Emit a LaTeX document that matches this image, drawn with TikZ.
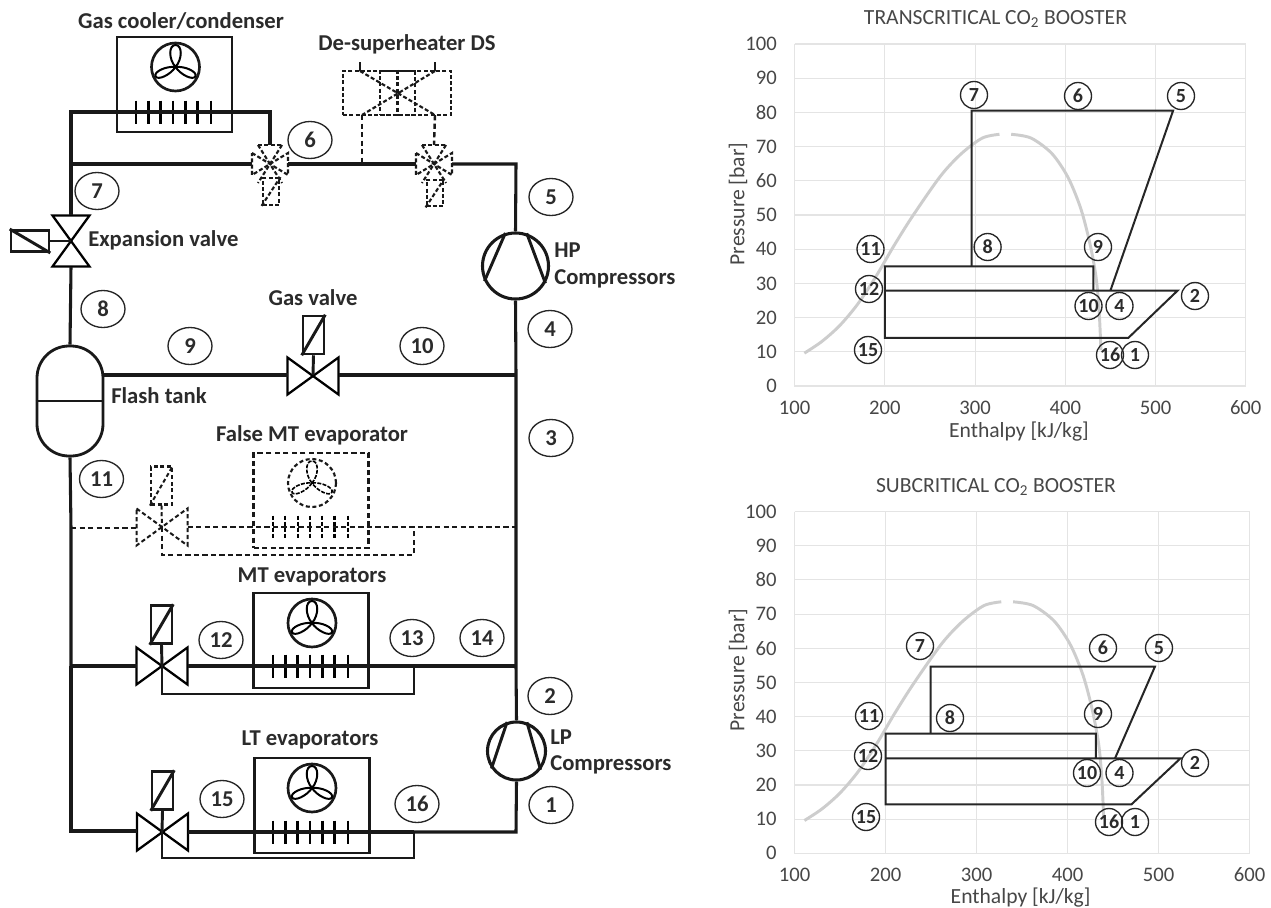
\documentclass[tikz,border=0pt]{standalone}
\usepackage{fontspec}
\setmainfont{Carlito}
\usetikzlibrary{shapes.geometric}
\definecolor{labelink}{HTML}{2B2B2B}
\definecolor{chartink}{HTML}{474747}
\definecolor{gridgray}{HTML}{E4E4E4}
\definecolor{domegray}{HTML}{CDCDCD}
\tikzset{
  x=0.75pt,y=-0.75pt,
  pipe/.style={line width=2.3pt,black!90},
  thinpipe/.style={line width=2.2pt,black!90},
  dashpipe/.style={line width=1.8pt,black!90,dash pattern=on 4pt off 2.4pt},
  finedash/.style={line width=1.6pt,black!90,dash pattern=on 3pt off 1.7pt},
  unitbox/.style={draw,line width=2.1pt,black!90,minimum width=86.25pt,minimum height=71.25pt,inner sep=0pt},
  solbox/.style={draw,line width=1.9pt,black!90,minimum width=15.75pt,minimum height=28.5pt,inner sep=0pt},
  fanring/.style={draw,circle,line width=2pt,black!90,minimum size=36pt,inner sep=0pt},
  compressor/.style={draw,circle,line width=2.3pt,black!90,inner sep=0pt},
  num/.style={draw,ellipse,line width=1pt,black!85,minimum width=33pt,minimum height=27.75pt,inner sep=0pt,font=\fontsize{17}{19}\selectfont\bfseries,text=labelink},
  cnum/.style={draw,circle,line width=1pt,black!85,minimum size=20.25pt,inner sep=0pt,font=\fontsize{15}{17}\selectfont\bfseries,text=labelink},
  lab/.style={inner sep=0pt,text=labelink,font=\fontsize{17}{20}\selectfont\bfseries},
  ctick/.style={inner sep=0pt,text=chartink,font=\fontsize{15.5}{18}\selectfont},
  ctext/.style={inner sep=0pt,text=chartink,font=\fontsize{16.2}{19}\selectfont},
  gridline/.style={gridgray,line width=0.8pt},
  dome/.style={domegray,line width=2.2pt},
  cycleline/.style={line width=1.5pt,black!85,line join=miter},
  pics/bowtie/.style={code={\draw[line join=miter] (-25.5,-18.5) -- (25.5,18.5) -- (25.5,-18.5) -- (-25.5,18.5) -- cycle;}},
  pics/blades/.style={code={
    \foreach \a/\w in {0/7,115/5,-115/5}{
      \draw[rotate=\a] (0,0) .. controls (-\w,-8) and (-\w,-22) .. (0,-22) .. controls (\w,-22) and (\w,-8) .. (0,0);}
  }},
  pics/ticks/.style={code={
    \foreach \t in {0,12.3,24.6,36.9,49.2,61.5,75}{\draw (\t,-11.5) -- (\t,11.5);}
  }},
  pics/fourway/.style={code={
    \draw (-18,-11) -- (18,11) -- (18,-11) -- (-18,11) -- cycle;
    \draw (-12,-19) -- (12,19) (12,-19) -- (-12,19);
    \draw (-12,-19) -- (12,-19);
  }},
}
\begin{document}
\begin{tikzpicture}
\useasboundingbox (0,0) rectangle (1271,907);
\fill[white] (0,0) rectangle (1271,907);

% ---------- junctions
\coordinate (LA) at (71,112);
\coordinate (LB) at (71,164);
\coordinate (LC) at (71,528);
\coordinate (LD) at (71,666);
\coordinate (LE) at (71,831);
\coordinate (RA) at (516,164);
\coordinate (RB) at (516,375);
\coordinate (RC) at (516,527);
\coordinate (RD) at (516,666);
\coordinate (RE) at (516,832);
\coordinate (evc) at (71,241);
\coordinate (evt) at (71,215);
\coordinate (evb) at (71,267);
\coordinate (gvc) at (313,375);
\coordinate (gvl) at (287.5,375);
\coordinate (gvr) at (338.5,375);
\coordinate (dvA) at (270,164);
\coordinate (dvB) at (434,164);
\coordinate (dvAl) at (252,164);
\coordinate (dvAr) at (288,164);
\coordinate (dvBl) at (416,164);
\coordinate (dvBr) at (452,164);
\coordinate (dvAt) at (270,145);
\coordinate (dvBt) at (434,145);
\coordinate (coilE) at (270,112);
\coordinate (dsT) at (362,164);
\coordinate (fvc) at (162,527);
\coordinate (mvc) at (162,666);
\coordinate (lvc) at (162,832);
\coordinate (ftee) at (414,527);
\coordinate (mtee) at (414,666);
\coordinate (ltee) at (414,832);
\coordinate (fbl) at (162,555);
\coordinate (fbr) at (414,555);
\coordinate (mbl) at (162,694);
\coordinate (mbr) at (414,694);
\coordinate (lbl) at (162,858);
\coordinate (lbr) at (414,858);

% ---------- units
\node[unitbox] (gc) at (174.5,84.5) {};
\node[unitbox,dash pattern=on 4pt off 2.4pt,line width=1.6pt] (fe) at (311,500.5) {};
\node[unitbox] (me) at (311,640.5) {};
\node[unitbox] (le) at (312,805.5) {};

\node[fanring] (gcf) at (175.5,67) {};
\node[fanring,dash pattern=on 3pt off 2pt,line width=1.6pt] (fef) at (312,483) {};
\node[fanring] (mef) at (312,623) {};
\node[fanring] (lef) at (312,788) {};
\pic[line width=1.5pt] at (175.5,67) {blades};
\pic[line width=1.2pt,dash pattern=on 3pt off 1pt] at (312,483) {blades};
\pic[line width=1.5pt] at (312,623) {blades};
\pic[line width=1.5pt] at (312,788) {blades};

\pic[line width=2pt] at (136,112) {ticks};
\pic[line width=1.6pt,dash pattern=on 3pt off 1.5pt] at (273,527) {ticks};
\pic[line width=2pt] at (273,666) {ticks};
\pic[line width=2pt] at (273,832) {ticks};

% ---------- flash tank and compressors
\node[draw,line width=2.1pt,black!90,rounded corners=24pt,minimum width=49.5pt,minimum height=82.5pt,inner sep=0pt] (tank) at (70,401) {};
\draw[thinpipe] (tank.west |- 0,401) -- (tank.east |- 0,401);
\node[compressor,minimum size=49.5pt] (hp) at (515.5,266) {};
\node[compressor,minimum size=43.5pt] (lp) at (516.5,751) {};
\draw[thinpipe] (hp.107) -- (hp.206);
\draw[thinpipe] (hp.71) -- (hp.330);
\draw[thinpipe] (lp.108) -- (lp.215);
\draw[thinpipe] (lp.70) -- (lp.322);

% ---------- valves
\pic[line width=1.7pt] at (313,376) {bowtie};
\pic[line width=1.7pt] at (162,666) {bowtie};
\pic[line width=1.7pt] at (162.5,832) {bowtie};
\pic[line width=1.7pt,rotate=90] at (evc) {bowtie};
\pic[line width=1.5pt,black!90,dash pattern=on 3.2pt off 2pt] at (162,527) {bowtie};
\pic[finedash] at (dvA) {fourway};
\pic[finedash] at (dvB) {fourway};

% ---------- solenoids
\node[solbox,minimum width=28.5pt,minimum height=16pt] (sEV) at (30,241) {};
\draw[thinpipe] (sEV.north west) -- (sEV.south east);
\draw[thinpipe] (sEV.east) -- (evc);
\node[solbox] (sGV) at (313.5,335) {};
\draw[thinpipe] (sGV.south west) -- (sGV.north east);
\draw[thinpipe] (sGV.south) -- (gvc);
\node[solbox] (sMV) at (161.5,624.5) {};
\draw[thinpipe] (sMV.south west) -- (sMV.north east);
\draw[thinpipe] (sMV.south) -- (mvc);
\node[solbox] (sLV) at (162.5,790.5) {};
\draw[thinpipe] (sLV.south west) -- (sLV.north east);
\draw[thinpipe] (sLV.south) -- (lvc);
\node[solbox,dash pattern=on 3pt off 2pt,line width=1.6pt] (sFV) at (161.5,485.5) {};
\draw[line width=1.5pt,black!90,dash pattern=on 3pt off 2pt] (sFV.south west) -- (sFV.north east);
\draw[line width=1.5pt,black!90,dash pattern=on 3pt off 2pt] (sFV.south) -- (fvc);
\node[solbox,finedash,minimum width=12.5pt,minimum height=20pt] (sA) at (271,191.5) {};
\draw[finedash] (sA.south west) -- (sA.north east);
\node[solbox,finedash,minimum width=12.5pt,minimum height=20pt] (sB) at (435,193) {};
\draw[finedash] (sB.south west) -- (sB.north east);

% ---------- de-superheater (dashed)
\node[draw,finedash,minimum width=81pt,minimum height=33pt,inner sep=0pt] (dsbox) at (397,93) {};
\node[draw,finedash,minimum width=26.25pt,minimum height=33pt,inner sep=0pt] (dsinner) at (397.5,93) {};
\draw[finedash] (dsinner.north) -- (dsinner.south);
\coordinate (dsTL) at (360,71);
\coordinate (dsTR) at (435,71);
\coordinate (dsBL) at (362,115);
\coordinate (dsBR) at (435,115);
\coordinate (dsSL) at (360,62);
\coordinate (dsSR) at (435,62);
\draw[finedash] (dsTL) -- (dsBR) (dsTR) -- (dsBL);
\draw[line width=1.3pt,black!90] (dsSL) -- (dsTL) (dsSR) -- (dsTR);
\draw[dashpipe] (dsBL) -- (dsT);
\draw[dashpipe] (dsBR) -- (dvBt);

% ---------- main piping
\draw[pipe,line join=miter] (gc.west |- LA) -- (LA) -- (LB) -- (evt);
\draw[pipe,line join=miter] (gc.west |- LA) -- (coilE) -- (dvAt);
\draw[pipe] (LB) -- (dvAl);
\draw[pipe] (dvAr) -- (dvBl);
\draw[pipe,line join=miter] (dvBr) -- (RA) -- (hp.north);
\draw[pipe] (evb) -- (tank.north);
\draw[pipe] (tank.south) -- (LC) -- (LD) -- (LE);
\draw[pipe] (tank.east |- gvc) -- (gvl);
\draw[pipe] (gvr) -- (RB);
\draw[pipe] (hp.south) -- (RB) -- (RC) -- (RD) -- (lp.north);
\draw[pipe,line join=miter] (lp.south) -- (RE) -- (ltee);
% false MT
\draw[dashpipe] (LC) -- (136.5,528);
\draw[dashpipe] (187.5,527) -- (RC);
\draw[dashpipe] (fvc) -- (fbl) -- (fbr) -- (ftee);
% MT
\draw[pipe] (LD) -- (136.5,666);
\draw[pipe] (187.5,666) -- (RD);
\draw[thinpipe,line join=miter] (mvc) -- (mbl) -- (mbr) -- (mtee);
% LT
\draw[pipe,line join=miter] (LD) -- (LE) -- (137,831);
\draw[pipe] (188,832) -- (ltee);
\draw[thinpipe,line join=miter] (lvc) -- (lbl) -- (lbr) -- (ltee);

% ---------- state numbers, schematic
\node[num] (p1) at (551,805) {1};
\node[num] (p2) at (550,696) {2};
\node[num] (p3) at (551,438) {3};
\node[num] (p4) at (550,329) {4};
\node[num] (p5) at (551,197) {5};
\node[num] (p6) at (310,140) {6};
\node[num] (p7) at (97,191) {7};
\node[num] (p8) at (103,309) {8};
\node[num] (p9) at (190,346) {9};
\node[num] (p10) at (422,346) {10};
\node[num] (p11) at (101.5,479) {11};
\node[num] (p12) at (221,640) {12};
\node[num] (p13) at (412,638) {13};
\node[num] (p14) at (482,638) {14};
\node[num] (p15) at (222,799) {15};
\node[num] (p16) at (417,804) {16};

% ---------- labels, schematic
\node[lab] (tGC) at (181,21) {Gas cooler/condenser};
\node[lab] (tDS) at (407,44) {De-superheater DS};
\node[lab,anchor=west] (tEV) at (88,240) {Expansion valve};
\node[lab] (tGV) at (313,298) {Gas valve};
\node[lab,anchor=west] (tFT) at (111,396) {Flash tank};
\node[lab] (tFE) at (312,435) {False MT evaporator};
\node[lab] (tME) at (312,577) {MT evaporators};
\node[lab] (tLE) at (310,740) {LT evaporators};
\node[lab,anchor=west] (tHP) at (554,250) {HP};
\node[lab,anchor=west] (tHC) at (554,279) {Compressors};
\node[lab,anchor=west] (tLP) at (550,737) {LP};
\node[lab,anchor=west] (tLC) at (550,765) {Compressors};

% ========== chart 1
\begin{scope}[shift={(704.5,386)},x=0.6765pt,y=2.565pt]
  \foreach \p in {10,20,...,100}{\draw[gridline] (100,\p) -- (600,\p);}
  \foreach \h in {200,300,400,500,600}{\draw[gridline] (\h,0) -- (\h,100);}
  \draw[gridline,line width=1pt] (100,100) -- (100,0) -- (600,0);
  \draw[dome] plot[smooth] coordinates {(110.7,9.6) (130,13) (150,17.7) (170,24) (190,32) (210,41) (231,49.8) (262,61.5) (285,68) (308,72.5) (327,73.6)};
  \draw[dome] plot[smooth] coordinates {(340,73.6) (362,72.5) (385,68) (403,61) (417,52) (427,42) (434,32) (437.5,22) (439.5,10.5)};
  \coordinate (a7) at (296,80.5); \coordinate (a5) at (519.5,80.5);
  \coordinate (a4) at (450,27.9); \coordinate (a2) at (524.5,27.9);
  \coordinate (a1) at (470,14.1); \coordinate (a15) at (200,14.1);
  \coordinate (a12) at (200,27.9); \coordinate (a11) at (200,35);
  \coordinate (a9) at (431,35); \coordinate (a10) at (431,27.9);
  \coordinate (a8) at (296,35);
  \draw[cycleline] (a8) -- (a7) -- (a5) -- (a4);
  \draw[cycleline] (a12) -- (a2) -- (a1) -- (a15) -- (a11) -- (a9) -- (a10);
  \foreach \h in {100,200,...,600}{\node[ctick] (ax\h) at (\h,-6.3) {\h};}
  \foreach \p in {0,10,...,100}{\node[ctick,anchor=east] (ay\p) at (80.4,\p) {\p};}
\end{scope}
\node[ctext] (t1) at (995.5,19) {TRANSCRITICAL CO\textsubscript{2} BOOSTER};
\node[ctext] (xl1) at (1019,431.5) {Enthalpy [kJ/kg]};
\node[ctext,rotate=90] (yl1) at (738,204) {Pressure [bar]};
\node[cnum] (a-1) at (1135,355) {1};
\node[cnum] (a-2) at (1195,296) {2};
\node[cnum] (a-4) at (1119.5,306) {4};
\node[cnum] (a-5) at (1181,96) {5};
\node[cnum] (a-6) at (1078,96) {6};
\node[cnum] (a-7) at (974,95) {7};
\node[cnum] (a-8) at (987.6,247) {8};
\node[cnum] (a-9) at (1098,247) {9};
\node[cnum] (a-10) at (1088.5,306) {10};
\node[cnum] (a-11) at (870.5,249) {11};
\node[cnum] (a-12) at (869,289) {12};
\node[cnum] (a-15) at (868,350) {15};
\node[cnum] (a-16) at (1110,355) {16};

% ========== chart 2
\begin{scope}[shift={(703.7,853.3)},x=0.6825pt,y=2.5628pt]
  \foreach \p in {10,20,...,100}{\draw[gridline] (100,\p) -- (600,\p);}
  \foreach \h in {200,300,400,500,600}{\draw[gridline] (\h,0) -- (\h,100);}
  \draw[gridline,line width=1pt] (100,100) -- (100,0) -- (600,0);
  \draw[dome] plot[smooth] coordinates {(110.7,9.6) (130,13) (150,17.7) (170,24) (190,32) (210,41) (231,49.8) (262,61.5) (285,68) (308,72.5) (327,73.6)};
  \draw[dome] plot[smooth] coordinates {(340,73.6) (362,72.5) (385,68) (403,61) (417,52) (427,42) (434,32) (437.5,22) (439.5,10.5)};
  \coordinate (b7) at (249.4,54.6); \coordinate (b5) at (495.8,54.6);
  \coordinate (b4) at (452,27.8); \coordinate (b2) at (524,27.8);
  \coordinate (b1) at (470,14.3); \coordinate (b15) at (200,14.3);
  \coordinate (b12) at (200,27.8); \coordinate (b11) at (200,35);
  \coordinate (b9) at (431,35); \coordinate (b10) at (431,27.8);
  \coordinate (b8) at (249.4,35);
  \draw[cycleline] (b8) -- (b7) -- (b5) -- (b4);
  \draw[cycleline] (b12) -- (b2) -- (b1) -- (b15) -- (b11) -- (b9) -- (b10);
  \foreach \h in {100,200,...,600}{\node[ctick] (bx\h) at (\h,-6.3) {\h};}
  \foreach \p in {0,10,...,100}{\node[ctick,anchor=east] (by\p) at (80.4,\p) {\p};}
\end{scope}
\node[ctext] (t2) at (996,487) {SUBCRITICAL CO\textsubscript{2} BOOSTER};
\node[ctext] (xl2) at (1020.6,897.5) {Enthalpy [kJ/kg]};
\node[ctext,rotate=90] (yl2) at (738,670) {Pressure [bar]};
\node[cnum] (b-1) at (1135,822) {1};
\node[cnum] (b-2) at (1195,763) {2};
\node[cnum] (b-4) at (1119.5,773) {4};
\node[cnum] (b-5) at (1159,648) {5};
\node[cnum] (b-6) at (1103,648) {6};
\node[cnum] (b-7) at (920,646) {7};
\node[cnum] (b-8) at (950,718) {8};
\node[cnum] (b-9) at (1098,714) {9};
\node[cnum] (b-10) at (1087,773) {10};
\node[cnum] (b-11) at (869,716) {11};
\node[cnum] (b-12) at (868,756) {12};
\node[cnum] (b-15) at (866,817) {15};
\node[cnum] (b-16) at (1109,822) {16};
\end{tikzpicture}
\end{document}
